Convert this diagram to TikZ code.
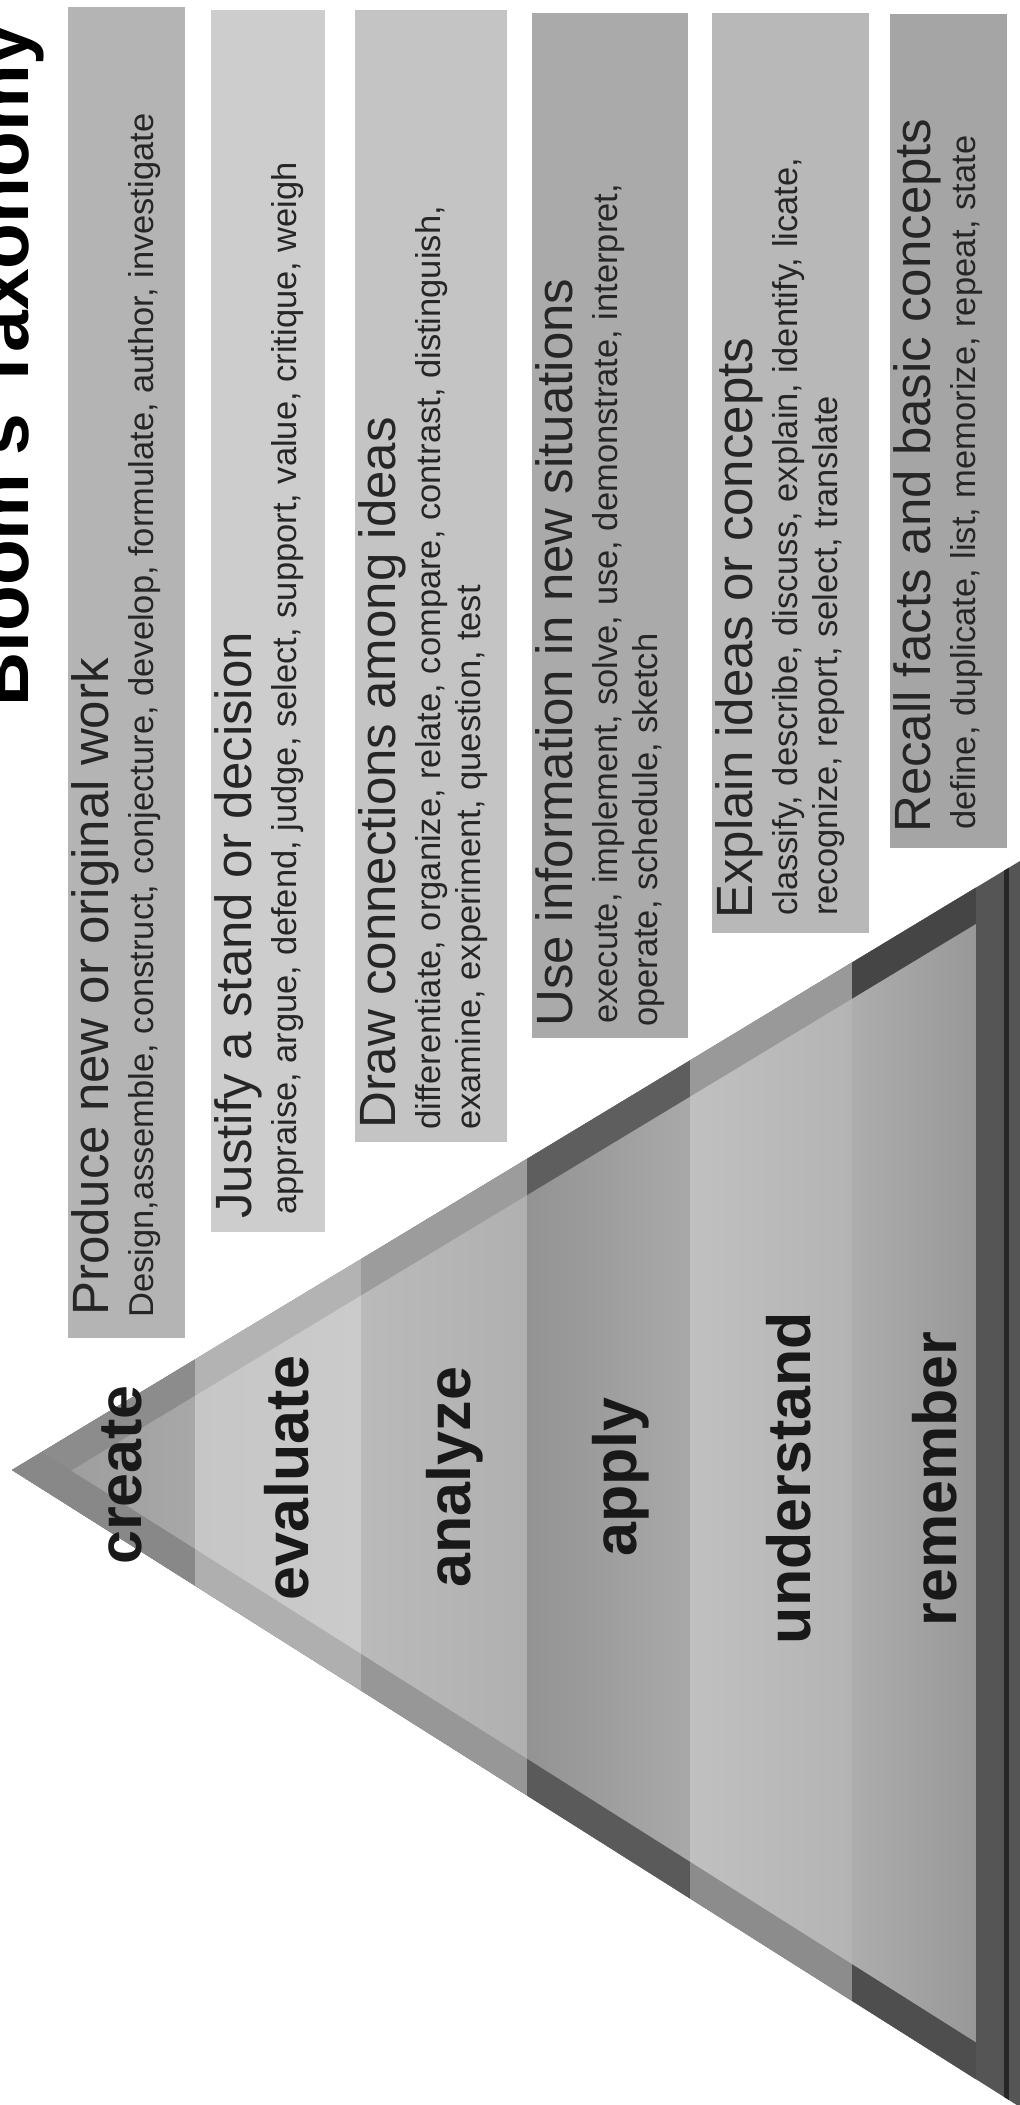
\documentclass[tikz,border=0pt]{standalone}
\usepackage{fontspec}
\setmainfont{Liberation Sans}
\definecolor{boxa}{HTML}{B4B4B4}
\definecolor{boxb}{HTML}{CDCDCD}
\definecolor{boxc}{HTML}{C4C4C4}
\definecolor{boxd}{HTML}{AAAAAA}
\definecolor{boxe}{HTML}{B8B8B8}
\definecolor{boxf}{HTML}{A5A5A5}
\definecolor{txt}{HTML}{262626}
% pyramid faces (left / right), upper bevel, lower bevel
\definecolor{paL}{HTML}{9A9A9A}\definecolor{paR}{HTML}{A8A8A8}\definecolor{paU}{HTML}{8C8C8C}\definecolor{paD}{HTML}{888888}
\definecolor{pbL}{HTML}{C6C6C6}\definecolor{pbR}{HTML}{CBCBCB}\definecolor{pbU}{HTML}{B3B3B3}\definecolor{pbD}{HTML}{AFAFAF}
\definecolor{pcL}{HTML}{BABABA}\definecolor{pcR}{HTML}{B0B0B0}\definecolor{pcU}{HTML}{9C9C9C}\definecolor{pcD}{HTML}{979797}
\definecolor{pdL}{HTML}{939393}\definecolor{pdR}{HTML}{A9A9A9}\definecolor{pdU}{HTML}{5E5E5E}\definecolor{pdD}{HTML}{5A5A5A}
\definecolor{peL}{HTML}{C0C0C0}\definecolor{peR}{HTML}{B4B4B4}\definecolor{peU}{HTML}{999999}\definecolor{peD}{HTML}{8C8C8C}
\definecolor{pfL}{HTML}{ADADAD}\definecolor{pfR}{HTML}{989898}\definecolor{pfU}{HTML}{454545}\definecolor{pfD}{HTML}{4E4E4E}
\definecolor{basegray}{HTML}{555555}
\begin{document}
\begin{tikzpicture}[x=1pt,y=-1pt,
  stripbox/.style={fill=#1, draw=none, inner sep=0pt, anchor=north west},
  maintext/.style={rotate=90, anchor=base west, inner sep=0pt, text=txt,
    font=\fontsize{51}{60}\selectfont},
  subtext/.style={rotate=90, anchor=base west, inner sep=0pt, text=txt,
    font=\fontsize{34.5}{40}\selectfont},
  levellabel/.style={rotate=90, anchor=center, inner sep=0pt, text=black!90,
    font=\bfseries\fontsize{61}{70}\selectfont},
  titletext/.style={rotate=90, anchor=base west, inner sep=0pt, text=black,
    font=\bfseries\fontsize{75}{80}\selectfont}]
\useasboundingbox (0,0) rectangle (1020,2105);
\fill[white] (0,0) rectangle (1020,2105);
\clip (0,0) rectangle (1020,2105);

% ---------- pyramid ----------
\coordinate (apex) at (12,1470);
\coordinate (topc) at (1020,861);
\coordinate (botc) at (1020,2107);
\begin{scope}
  \clip (apex) -- (topc) -- (botc) -- cycle;
  \foreach \xl/\xr/\fl/\fr/\up/\lo in {12/195/paL/paR/paU/paD, 195/361/pbL/pbR/pbU/pbD,
      361/527/pcL/pcR/pcU/pcD, 527/690/pdL/pdR/pdU/pdD, 690/852/peL/peR/peU/peD,
      852/976/pfL/pfR/pfU/pfD} {
    \begin{scope}
      \clip (\xl,700) rectangle (\xr,2150);
      \fill[left color=\fl, right color=\fr] (\xl,700) rectangle (\xr,2150);
      \draw[line width=62pt, \up] (apex) -- (topc);
      \draw[line width=62pt, \lo] (apex) -- (botc);
    \end{scope}
  }
  \fill[basegray] (976,700) rectangle (1020,2150);
  \draw[line width=5pt, black!85] (1006,700) -- (1006,2150);
\end{scope}

% ---------- level labels ----------
\node[levellabel] (lcreate) at (122,1475) {create};
\node[levellabel] (levaluate) at (287,1478) {evaluate};
\node[levellabel] (lanalyze) at (455,1477) {analyze};
\node[levellabel] (lapply) at (621,1477) {apply};
\node[levellabel] (lunderstand) at (789,1478) {understand};
\node[levellabel] (lremember) at (935,1479) {remember};

% ---------- description strips ----------
\node[stripbox=boxa, minimum width=117pt, minimum height=1331pt] (box1) at (68,7) {};
\node[stripbox=boxb, minimum width=114pt, minimum height=1222pt] (box2) at (211,10) {};
\node[stripbox=boxc, minimum width=152pt, minimum height=1132pt] (box3) at (355,10) {};
\node[stripbox=boxd, minimum width=156pt, minimum height=1025pt] (box4) at (532,13) {};
\node[stripbox=boxe, minimum width=157pt, minimum height=920pt] (box5) at (712,13) {};
\node[stripbox=boxf, minimum width=117pt, minimum height=834pt] (box6) at (890,14) {};

\node[maintext] (m1) at (108,1316) {Produce new or original work};
\node[subtext] (s1) at (153,1318) {Design,assemble, construct, conjecture, develop, formulate, author, investigate};

\node[maintext] (m2) at (251,1219) {Justify a stand or decision};
\node[subtext] (s2) at (296,1215) {appraise, argue, defend, judge, select, support, value, critique, weigh};

\node[maintext] (m3) at (395,1129) {Draw connections among ideas};
\node[subtext] (s3a) at (440,1130) {differentiate, organize, relate, compare, contrast, distinguish,};
\node[subtext] (s3b) at (480,1130) {examine, experiment, question, test};

\node[maintext] (m4) at (572,1027) {Use information in new situations};
\node[subtext] (s4a) at (617,1024) {execute, implement, solve, use, demonstrate, interpret,};
\node[subtext] (s4b) at (657,1027) {operate, schedule, sketch};

\node[maintext] (m5) at (752,919) {Explain ideas or concepts};
\node[subtext] (s5a) at (797,916) {classify, describe, discuss, explain, identify, licate,};
\node[subtext] (s5b) at (837,916) {recognize, report, select, translate};

\node[maintext] (m6) at (930,833) {Recall facts and basic concepts};
\node[subtext] (s6) at (975,830) {define, duplicate, list, memorize, repeat, state};

% ---------- title ----------
\node[titletext] (title) at (28,707) {Bloom's Taxonomy};
\end{tikzpicture}
\end{document}
